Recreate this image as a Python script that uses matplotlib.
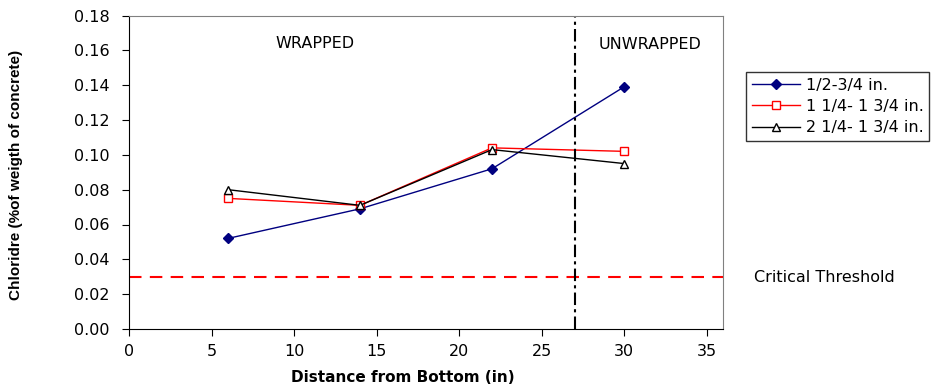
import matplotlib.pyplot as plt

plt.rcParams['font.family'] = ['DejaVu Sans']

distance = [6, 14, 22, 30]
series_a = [0.052, 0.069, 0.092, 0.139]
series_b = [0.075, 0.071, 0.104, 0.102]
series_c = [0.080, 0.071, 0.103, 0.095]
labels = ["1/2-3/4 in.", "1 1/4- 1 3/4 in.", "2 1/4- 1 3/4 in."]
threshold = 0.03
boundary = 27

fig = plt.figure(figsize=(9.48, 3.88), dpi=100)
ax = fig.add_axes([129 / 948, 1 - 329 / 388, (723 - 129) / 948, (329 - 15.5) / 388])

ax.plot(distance, series_a, color="#000080", lw=1, marker="D", ms=5,
        mfc="#000080", mec="#000080", label=labels[0])
ax.plot(distance, series_b, color="red", lw=1, marker="s", ms=6,
        mfc="white", mec="red", label=labels[1])
ax.plot(distance, series_c, color="black", lw=1, marker="^", ms=6,
        mfc="white", mec="black", label=labels[2])

ax.axhline(threshold, color="#ff0000", lw=1.5, ls=(0, (6, 4)))
ax.axvline(boundary, color="black", lw=1.5, ls=(0, (6, 2, 1.5, 2)))

ax.set_xlim(0, 36)
ax.set_ylim(0, 0.18)
ax.set_xticks(range(0, 36, 5))
ax.set_yticks([i * 0.02 for i in range(10)])
ax.set_yticklabels([f"{i * 0.02:.2f}" for i in range(10)])
ax.tick_params(direction="out", length=5, labelsize=11.5, colors="black")
ax.tick_params(axis="x", pad=6)
ax.tick_params(axis="y", pad=9)

for s in ["top", "right"]:
    ax.spines[s].set_color("#808080")
for s in ["left", "bottom"]:
    ax.spines[s].set_color("black")

ax.text(11.27, 0.164, "WRAPPED", ha="center", va="center", fontsize=11.5)
ax.text(31.56, 0.1635, "UNWRAPPED", ha="center", va="center", fontsize=11.5)
fig.text(754 / 948, 1 - 277 / 388, "Critical Threshold", ha="left", va="center", fontsize=11.5)

fig.text(16 / 948, 1 - 175 / 388, "Chloridre (%of weigth of concrete)", rotation=90,
         ha="center", va="center", fontsize=11, fontweight="bold",
         family="Liberation Sans")
fig.text(403 / 948, 1 - 377 / 388, "Distance from Bottom (in)", ha="center", va="center",
         fontsize=11, fontweight="bold")

leg = ax.legend(loc="upper left", bbox_to_anchor=(746 / 948, 1 - 72 / 388),
                bbox_transform=fig.transFigure, frameon=True, fancybox=False,
                fontsize=11.5, handlelength=3.0, borderpad=0.35, labelspacing=0.4,
                handletextpad=0.4, borderaxespad=0)
leg.get_frame().set_edgecolor("black")
leg.get_frame().set_linewidth(1)

fig.savefig("out.png", dpi=100)
